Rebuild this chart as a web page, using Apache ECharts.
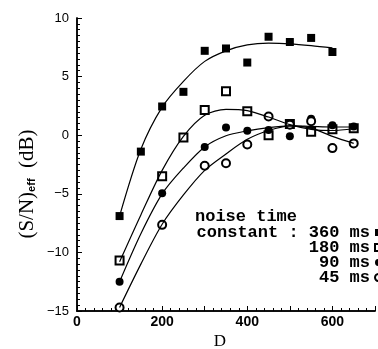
<!DOCTYPE html>
<html>
<head>
<meta charset="utf-8">
<script src="https://cdn.jsdelivr.net/npm/echarts@6/dist/echarts.min.js"></script>
<style>
  html, body { margin: 0; padding: 0; background: #fff; }
  #chart { width: 378px; height: 349px; }
</style>
</head>
<body>
<div id="chart"></div>
<script>
// measured points: D vs (S/N)eff in dB, one pair of arrays per noise time constant
const d360 = [100, 150, 200, 250, 300, 350, 400, 450, 500, 550, 600];
const sn360 = [-6.9, -1.4, 2.45, 3.7, 7.2, 7.4, 6.2, 8.4, 7.95, 8.3, 7.1];
const d180 = [100, 200, 250, 300, 350, 400, 450, 500, 550, 600, 650];
const sn180 = [-10.7, -3.5, -0.2, 2.15, 3.75, 2.05, 0.0, 0.95, 0.3, 0.5, 0.6];
const d90 = [100, 200, 300, 350, 400, 450, 500, 550, 600, 650];
const sn90 = [-12.5, -4.95, -1.0, 0.65, 0.37, 0.45, -0.1, 1.4, 0.85, 0.75];
const d45 = [100, 200, 300, 350, 400, 450, 500, 550, 600, 650];
const sn45 = [-14.7, -7.65, -2.6, -2.4, -0.8, 1.6, 0.9, 1.2, -1.1, -0.7];

// fitted curves
const dFit = [100, 150, 200, 250, 300, 350, 400, 450, 500, 550, 600, 650];
const fit360 = [-6.9, -1.2, 2.4, 4.6, 6.3, 7.2, 7.7, 7.85, 7.8, 7.65, 7.45];
const fit180 = [-10.8, -6.8, -3.0, -0.1, 1.7, 2.2, 2.1, 1.55, 0.9, 0.5, 0.4, 0.55];
const fit90 = [-12.5, -8.4, -5.0, -2.8, -1.0, -0.05, 0.37, 0.65, 0.8, 0.75, 0.7, 0.7];
const fit45 = [-14.7, -11.0, -7.6, -5.1, -3.0, -1.6, -0.35, 0.4, 0.8, 0.6, -0.1, -0.7];

const names = ["360 ms", "180 ms", "90 ms", "45 ms"];
const xLabels = [0, 200, 400, 600];
const yTicks = [-15, -10, -5, 0, 5, 10];

const pairs = (xs, ys) => xs.map((x, i) => [x, ys[i]]).filter(p => p[1] !== undefined);

const MONO = '"Liberation Mono", monospace';
const SERIF = '"Liberation Serif", serif';
const SANS = '"Liberation Sans", sans-serif';

function marks(name, xs, ys, symbol) {
  const empty = symbol.indexOf("empty") === 0;
  return {
    name,
    type: "scatter",
    data: pairs(xs, ys),
    symbol,
    symbolSize: 8,
    itemStyle: {
      color: "#000",
      borderColor: "#000",
      borderWidth: empty ? 1 : 0,
      opacity: 1
    }
  };
}

function curve(ys) {
  return {
    type: "line",
    data: pairs(dFit, ys),
    showSymbol: false,
    smooth: 0.3,
    lineStyle: { color: "#000", width: 1.2 }
  };
}

// fresh objects for each axis
function axisStyle(minorSplit) {
  return {
    axisLine: { show: true, onZero: false, lineStyle: { color: "#000", width: 1.5 } },
    splitLine: { show: false },
    axisTick: { show: true, inside: true, length: 5, lineStyle: { color: "#000", width: 1 } },
    minorTick: { show: true, splitNumber: minorSplit, length: 3, lineStyle: { color: "#000", width: 1 } }
  };
}

function xScale() {
  return { type: "value", min: 0, max: 700, interval: 100, position: "bottom" };
}
function yScale() {
  return { type: "value", min: yTicks[0], max: yTicks[yTicks.length - 1], interval: 5, position: "left" };
}

const chart = echarts.init(document.getElementById("chart"));
chart.setOption({
  animation: false,
  backgroundColor: "#fff",
  grid: { left: 77, top: 18, bottom: 38, right: -2 },
  // axis 0 carries the labels, axis 1 is a plain copy that carries the ticks
  xAxis: [
    Object.assign(axisStyle(5), xScale(), {
      axisLabel: {
        margin: 4,
        color: "#000",
        fontFamily: SANS,
        fontSize: 14,
        fontWeight: "bold",
        formatter: v => (xLabels.indexOf(v) >= 0 ? String(v) : "")
      }
    }),
    Object.assign(axisStyle(5), xScale(), { axisLabel: { show: false } })
  ],
  yAxis: [
    Object.assign(axisStyle(10), yScale(), {
      axisLabel: {
        margin: 8,
        color: "#000",
        fontFamily: SANS,
        fontSize: 13,
        formatter: v => String(v).replace("-", "\u2212")
      }
    }),
    Object.assign(axisStyle(10), yScale(), { axisLabel: { show: false } })
  ],
  legend: {
    data: names,
    orient: "vertical",
    align: "right",
    right: -5,
    top: 224,
    padding: 0,
    itemGap: -2,
    itemWidth: 7,
    itemHeight: 7,
    textStyle: { fontFamily: MONO, fontSize: 17, fontWeight: "bold", color: "#000" },
    formatter: name => (name === names[0] ? "constant : " + name : name.padStart(17, " "))
  },
  graphic: [
    {
      type: "text",
      left: 195,
      top: 208,
      style: { text: "noise time", fontFamily: MONO, fontSize: 17, fontWeight: "bold", fill: "#000" }
    },
    {
      type: "text",
      x: 27,
      y: 184,
      rotation: Math.PI / 2,
      style: {
        text: "(S/N){sub|eff}  (dB)",
        fontFamily: SERIF,
        fontSize: 21,
        fill: "#000",
        align: "center",
        verticalAlign: "middle",
        rich: {
          sub: { fontFamily: SANS, fontSize: 11, fontWeight: "bold", verticalAlign: "bottom", padding: [8, 0, 0, 0] }
        }
      }
    },
    {
      type: "text",
      x: 220,
      y: 342,
      style: { text: "D", fontFamily: SERIF, fontSize: 17, fill: "#000", align: "center", verticalAlign: "middle" }
    }
  ],
  series: [
    curve(fit360),
    curve(fit180),
    curve(fit90),
    curve(fit45),
    marks(names[0], d360, sn360, "rect"),
    marks(names[1], d180, sn180, "emptyRect"),
    marks(names[2], d90, sn90, "circle"),
    marks(names[3], d45, sn45, "emptyCircle")
  ]
});
</script>
</body>
</html>
